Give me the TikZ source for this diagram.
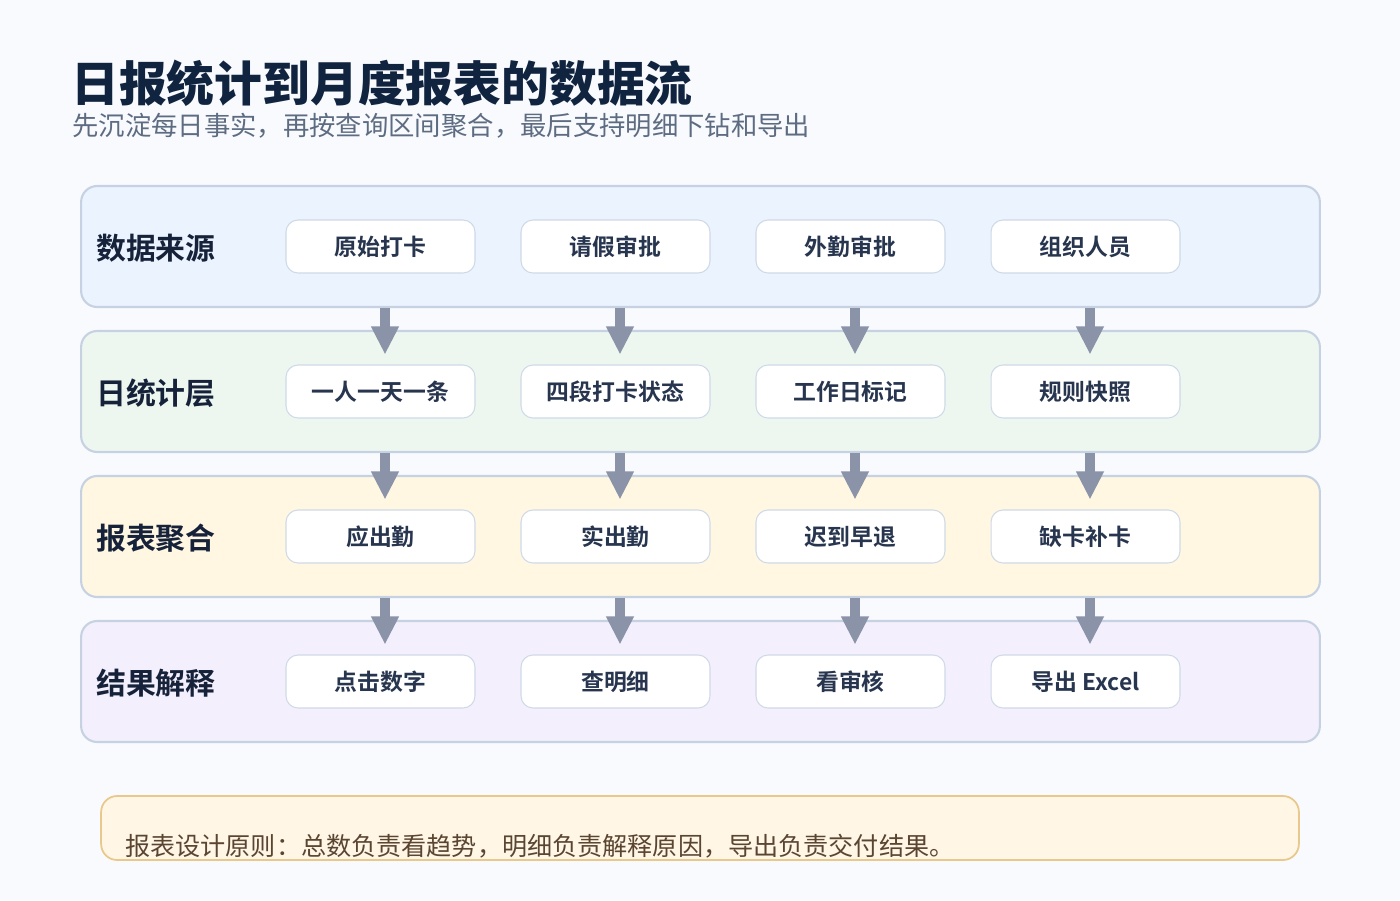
\documentclass[tikz,border=0pt]{standalone}
\usepackage{fontspec}
\usepackage{tikz}
\usetikzlibrary{arrows.meta}
\setmainfont{Noto Sans CJK SC}[BoldFont={Noto Sans CJK SC Bold}]
\newfontfamily\heavyfont{Noto Sans CJK SC Black}

\definecolor{pagebg}{HTML}{F8FAFE}
\definecolor{titlecol}{HTML}{10233F}
\definecolor{subcol}{HTML}{5E6C82}
\definecolor{labelcol}{HTML}{16223A}
\definecolor{boxtext}{HTML}{27354F}
\definecolor{bandline}{HTML}{C6D2E2}
\definecolor{boxline}{HTML}{CFDAE8}
\definecolor{arrowcol}{HTML}{8A93A8}
\definecolor{srcfill}{HTML}{EAF3FE}
\definecolor{dayfill}{HTML}{EDF7F0}
\definecolor{aggfill}{HTML}{FFF7E2}
\definecolor{resfill}{HTML}{F3EFFC}
\definecolor{notefill}{HTML}{FFF6E6}
\definecolor{noteline}{HTML}{E8C98B}
\definecolor{notetext}{HTML}{5A4531}

\begin{document}
\begin{tikzpicture}[x=0.02cm,y=-0.02cm,
band/.style={draw=bandline,line width=1.2pt,rounded corners=0.32cm,
  minimum width=24.78cm,minimum height=2.42cm},
band label/.style={anchor=west,text=labelcol,font=\bfseries\fontsize{17}{20}\selectfont},
step box/.style={draw=boxline,line width=0.6pt,fill=white,rounded corners=0.24cm,
  minimum width=3.78cm,minimum height=1.06cm,text=boxtext,
  font=\bfseries\fontsize{13}{16}\selectfont},
flow arrow/.style={draw=arrowcol,line width=0.2cm,
  -{Triangle[width=0.52cm,length=0.56cm]},shorten >=0.2cm}]
\useasboundingbox[fill=pagebg] (0,0) rectangle (1400,900);

% title
\node[anchor=base west,text=titlecol,inner sep=0pt,
  font=\heavyfont\fontsize{27.2}{32}\selectfont] (title) at (71,101)
  {日报统计到月度报表的数据流};
\node[anchor=base west,text=subcol,inner sep=0pt,
  font=\fontsize{15}{18}\selectfont] (subtitle) at (72,135)
  {先沉淀每日事实，再按查询区间聚合，最后支持明细下钻和导出};

% bands
\node[band,fill=srcfill] (src) at (700.5,246.5) {};
\node[band,fill=dayfill] (day) at (700.5,391.5) {};
\node[band,fill=aggfill] (agg) at (700.5,536.5) {};
\node[band,fill=resfill] (res) at (700.5,681.5) {};

\node[band label] at (90,248) {数据来源};
\node[band label] at (90,393) {日统计层};
\node[band label] at (90,538) {报表聚合};
\node[band label] at (90,683) {结果解释};

% row 1
\node[step box] (src1) at (380.5,246.5) {原始打卡};
\node[step box] (src2) at (615.5,246.5) {请假审批};
\node[step box] (src3) at (850.5,246.5) {外勤审批};
\node[step box] (src4) at (1085.5,246.5) {组织人员};
% row 2
\node[step box] (day1) at (380.5,391.5) {一人一天一条};
\node[step box] (day2) at (615.5,391.5) {四段打卡状态};
\node[step box] (day3) at (850.5,391.5) {工作日标记};
\node[step box] (day4) at (1085.5,391.5) {规则快照};
% row 3
\node[step box] (agg1) at (380.5,536.5) {应出勤};
\node[step box] (agg2) at (615.5,536.5) {实出勤};
\node[step box] (agg3) at (850.5,536.5) {迟到早退};
\node[step box] (agg4) at (1085.5,536.5) {缺卡补卡};
% row 4
\node[step box] (res1) at (380.5,681.5) {点击数字};
\node[step box] (res2) at (615.5,681.5) {查明细};
\node[step box] (res3) at (850.5,681.5) {看审核};
\node[step box] (res4) at (1085.5,681.5) {导出 Excel};

% arrows between bands
\foreach \a/\b in {src/day,day/agg,agg/res}
  \foreach \i in {1,2,3,4}
    \draw[flow arrow] ([xshift=0.09cm]\b\i.north |- \a.south)
      -- ([xshift=0.09cm]\b\i.north);

% note
\node[draw=noteline,fill=notefill,line width=1pt,rounded corners=0.32cm,
  minimum width=23.96cm,minimum height=1.28cm] (note) at (700,828) {};
\node[anchor=base west,text=notetext,inner sep=0pt,
  font=\fontsize{14.3}{17}\selectfont] (notetext) at (125,855)
  {报表设计原则：总数负责看趋势，明细负责解释原因，导出负责交付结果。};
\end{tikzpicture}
\end{document}
